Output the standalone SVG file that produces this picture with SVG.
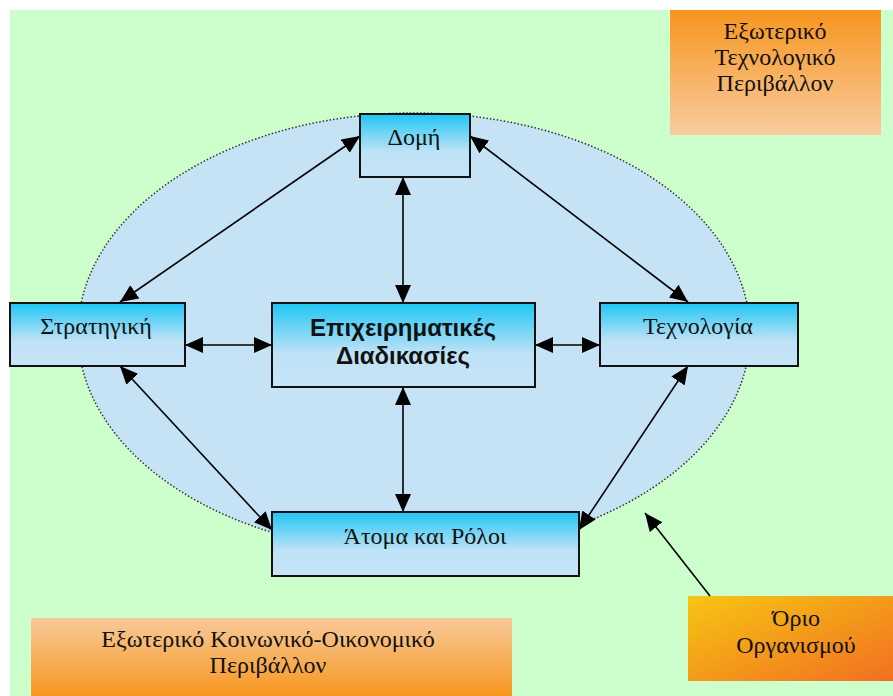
<svg xmlns="http://www.w3.org/2000/svg" width="893" height="696" viewBox="0 0 893 696">
<style>
.box{stroke:#111;stroke-width:2;fill:url(#gBox)}
.lbl{font-family:"Liberation Serif","Times New Roman",serif;font-size:24px;fill:#111;text-anchor:middle}
.bold{font-family:"Liberation Sans",Arial,sans-serif;font-size:24px;font-weight:bold;fill:#111;text-anchor:middle}
.con{stroke:#000;stroke-width:1.6;fill:none;marker-start:url(#ah);marker-end:url(#ah)}
</style>
<defs>
<linearGradient id="gBox" x1="0" y1="0" x2="0" y2="1">
<stop offset="0" stop-color="#1EC6F4"/>
<stop offset="0.6" stop-color="#BFE2F6"/>
<stop offset="1" stop-color="#C6E4F7"/>
</linearGradient>
<linearGradient id="gTR" x1="0" y1="0" x2="0" y2="1">
<stop offset="0" stop-color="#F7951E"/>
<stop offset="1" stop-color="#F8CB9F"/>
</linearGradient>
<linearGradient id="gBL" x1="0" y1="0" x2="0" y2="1">
<stop offset="0" stop-color="#F8C99A"/>
<stop offset="1" stop-color="#F79720"/>
</linearGradient>
<linearGradient id="gOr" x1="0" y1="0" x2="1" y2="1">
<stop offset="0" stop-color="#F6C612"/>
<stop offset="1" stop-color="#F26F22"/>
</linearGradient>
<marker id="ah" viewBox="0 0 18 16" refX="18" refY="8" markerWidth="18" markerHeight="16" markerUnits="userSpaceOnUse" orient="auto-start-reverse">
<path d="M0,0 L18,8 L0,16 Z" fill="#000"/>
</marker>
</defs>
<rect x="10" y="10" width="883" height="686" fill="#CCFFCC"/>
<ellipse cx="414" cy="333" rx="336" ry="220" fill="#C6E2F5" stroke="#333" stroke-width="1.5" stroke-dasharray="1.5,2"/>
<g id="ext-tech">
<rect x="670" y="10" width="211" height="125" fill="url(#gTR)"/>
<text class="lbl" x="775" y="39">Εξωτερικό</text>
<text class="lbl" x="775" y="65">Τεχνολογικό</text>
<text class="lbl" x="775" y="91">Περιβάλλον</text>
</g>
<g id="ext-soc">
<rect x="31" y="618" width="481" height="78" fill="url(#gBL)"/>
<text class="lbl" x="268" y="647">Εξωτερικό Κοινωνικό-Οικονομικό</text>
<text class="lbl" x="268" y="673">Περιβάλλον</text>
</g>
<g id="orio">
<rect x="688" y="596" width="205" height="85" fill="url(#gOr)"/>
<text class="lbl" x="796" y="626">Όριο</text>
<text class="lbl" x="796" y="653">Οργανισμού</text>
</g>
<g id="connectors">
<line class="con" x1="360" y1="136" x2="120" y2="302"/>
<line class="con" x1="470" y1="136" x2="688" y2="302"/>
<line class="con" x1="403" y1="177" x2="403" y2="303"/>
<line class="con" x1="185" y1="345" x2="272" y2="345"/>
<line class="con" x1="535" y1="345" x2="600" y2="345"/>
<line class="con" x1="403" y1="387" x2="403" y2="512"/>
<line class="con" x1="120" y1="366" x2="272" y2="530"/>
<line class="con" x1="688" y1="366" x2="579" y2="530"/>
<line x1="710" y1="596" x2="645" y2="513" stroke="#000" stroke-width="1.6" marker-end="url(#ah)"/>
</g>
<g id="domi">
<rect class="box" x="360" y="114" width="110" height="63"/>
<text class="lbl" x="414" y="145">Δομή</text>
</g>
<g id="strat">
<rect class="box" x="10" y="303" width="175" height="63"/>
<text class="lbl" x="96" y="334">Στρατηγική</text>
</g>
<g id="center">
<rect class="box" x="272" y="303" width="263" height="84"/>
<text class="bold" x="403" y="336">Επιχειρηματικές</text>
<text class="bold" x="403" y="364">Διαδικασίες</text>
</g>
<g id="tech">
<rect class="box" x="600" y="303" width="198" height="63"/>
<text class="lbl" x="698" y="334">Τεχνολογία</text>
</g>
<g id="atoma">
<rect class="box" x="272" y="512" width="307" height="64"/>
<text class="lbl" x="425" y="544">Άτομα και Ρόλοι</text>
</g>
</svg>
